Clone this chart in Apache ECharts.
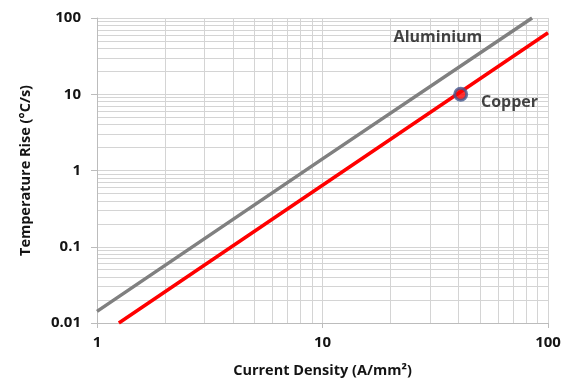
<!DOCTYPE html>
<html>
<head>
<meta charset="utf-8">
<script src="https://cdn.jsdelivr.net/npm/echarts@6/dist/echarts.min.js"></script>
<style>
  html, body { margin: 0; padding: 0; background: #fff; }
  #chart { width: 571px; height: 385px; }
</style>
</head>
<body>
<div id="chart"></div>
<script>
// values
var aluminiumJ = [1, 10, 85];
var aluminiumT = [0.0142, 1.42, 100];
var copperJ = [1.25, 10, 100];
var copperT = [0.01, 0.64, 64];
var pointJ = [41];
var pointT = [10];
var labelNames = ['Aluminium', 'Copper'];
var labelJ = [32.5, 67.5];
var labelT = [55, 7.9];

function pairs(xs, ys) {
    var out = [];
    for (var i = 0; i < xs.length; i++) out.push([xs[i], ys[i]]);
    return out;
}

var font = 'Open Sans';
var textColor = '#141414';
var gridColor = '#d4d4d4';
var axisColor = '#bcbcbc';

var option = {
    animation: false,
    backgroundColor: '#fff',
    grid: { left: 97, right: 23, top: 18, bottom: 62 },
    xAxis: {
        type: 'log',
        logBase: 10,
        min: 1,
        max: 100,
        name: 'Current Density (A/mm²)',
        nameLocation: 'middle',
        nameGap: 40,
        nameTextStyle: { fontFamily: font, fontWeight: 'bold', fontSize: 14.5, color: textColor },
        axisLine: { lineStyle: { color: axisColor } },
        axisTick: { show: true, length: 5, lineStyle: { color: axisColor } },
        axisLabel: { margin: 12, fontFamily: font, fontWeight: 'bold', fontSize: 15, color: textColor },
        splitLine: { show: true, lineStyle: { color: gridColor, width: 1 } },
        minorTick: { show: false, splitNumber: 9 },
        minorSplitLine: { show: true, lineStyle: { color: gridColor, width: 1 } }
    },
    yAxis: {
        type: 'log',
        logBase: 10,
        min: 0.01,
        max: 100,
        name: 'Temperature Rise (°C/s)',
        nameLocation: 'middle',
        nameGap: 64,
        nameTextStyle: { fontFamily: font, fontWeight: 'bold', fontSize: 14.5, color: textColor },
        axisLine: { show: true, lineStyle: { color: axisColor } },
        axisTick: { show: true, length: 6, lineStyle: { color: axisColor } },
        axisLabel: { margin: 16, fontFamily: font, fontWeight: 'bold', fontSize: 15, color: textColor },
        splitLine: { show: true, lineStyle: { color: gridColor, width: 1 } },
        minorTick: { show: false, splitNumber: 9 },
        minorSplitLine: { show: true, lineStyle: { color: gridColor, width: 1 } }
    },
    series: [
        {
            name: 'Aluminium',
            type: 'line',
            data: pairs(aluminiumJ, aluminiumT),
            showSymbol: false,
            lineStyle: { color: '#808080', width: 3.5 },
            z: 3
        },
        {
            name: 'Copper',
            type: 'line',
            data: pairs(copperJ, copperT),
            showSymbol: false,
            lineStyle: { color: '#ff0000', width: 3.5 },
            z: 3
        },
        {
            name: 'Copper point',
            type: 'scatter',
            data: pairs(pointJ, pointT),
            symbol: 'circle',
            symbolSize: 12,
            itemStyle: { color: '#ff0000', borderColor: '#44598f', borderWidth: 3 },
            z: 5
        },
        {
            name: 'labels',
            type: 'scatter',
            symbolSize: 0,
            data: labelNames.map(function (n, i) {
                return { name: n, value: [labelJ[i], labelT[i]] };
            }),
            label: {
                show: true,
                position: 'inside',
                formatter: '{b}',
                fontFamily: font,
                fontWeight: 'bold',
                fontSize: 16,
                color: textColor
            },
            z: 6
        }
    ]
};

var myChart = echarts.init(document.getElementById('chart'));
myChart.setOption(option);
</script>
</body>
</html>
